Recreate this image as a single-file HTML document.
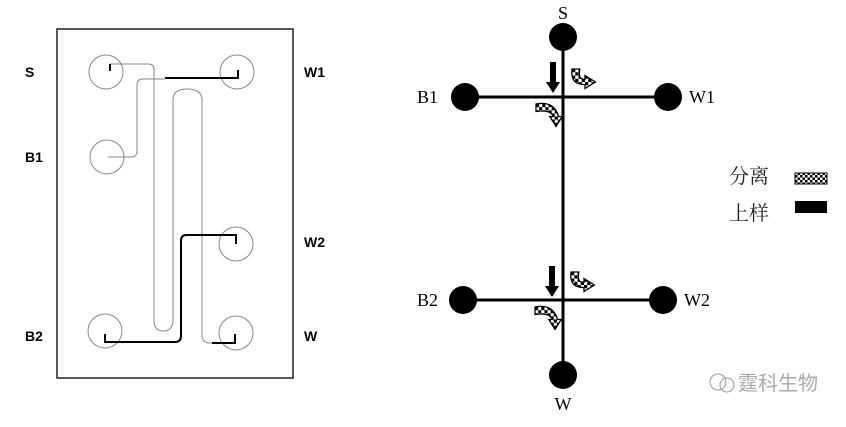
<!DOCTYPE html>
<html><head><style>
body{margin:0;background:#fff;width:846px;height:422px;overflow:hidden}
</style></head><body>
<svg width="846" height="422" xmlns="http://www.w3.org/2000/svg">
<defs>
<pattern id="ck" width="5" height="5" patternUnits="userSpaceOnUse">
<rect width="5" height="5" fill="#fff"/><rect width="2.5" height="2.5" fill="#000"/><rect x="2.5" y="2.5" width="2.5" height="2.5" fill="#000"/>
</pattern>
<g id="cr">
<path d="M0,0 C10,-2 16,2 18,10 L21,10 L16,18 L11,10 L14,10 C12,6 8,5 0,6 Z" fill="url(#ck)" stroke="#000" stroke-width="1"/>
</g>
<g id="cu">
<path d="M0,0 C-1,8 2,12 10,12 L10,15 L18,10 L10,5 L10,8 C6,8 5,6 6,0 Z" fill="url(#ck)" stroke="#000" stroke-width="1"/>
</g>
<g id="ar"><path d="M-3,0 L3,0 L3,20 L7,20 L0,31 L-7,20 L-3,20 Z" fill="#000"/></g>
</defs>
<!-- left chip -->
<rect x="57" y="29" width="236" height="349" fill="none" stroke="#222" stroke-width="1.5"/>
<g fill="none" stroke="#888" stroke-width="1">
<circle cx="106" cy="72" r="17"/><circle cx="237" cy="72" r="17"/>
<circle cx="107" cy="157" r="17"/><circle cx="236" cy="244" r="17"/>
<circle cx="105" cy="331" r="17"/><circle cx="236" cy="333" r="17"/>
<path d="M110,64 L148,64 Q154,64 154,70 L154,320 Q154,331 163,331 Q173,331 173,320 L173,100 Q173,89 187,89 Q202,89 202,100 L202,335 Q202,343 210,343 L235,343"/>
<path d="M108,157 L131,157 Q137,157 137,151 L137,85 Q137,79 143,79 L165,79"/>
</g>
<g fill="none" stroke="#000" stroke-width="2">
<path d="M110,71 L110,64"/>
<path d="M165,78 L238,78 L238,70"/>
<path d="M236,244 L236,235 L186,235 Q181,235 181,241 L181,336 Q181,342 175,342 L105,342 L105,334"/>
<path d="M212,343 L235,343 L235,334"/>
</g>
<g font-family="Liberation Sans,sans-serif" font-weight="bold" font-size="14" fill="#000">
<text x="25" y="77">S</text><text x="25" y="162">B1</text><text x="25" y="341">B2</text>
<text x="304" y="77">W1</text><text x="304" y="247">W2</text><text x="304" y="341">W</text>
</g>
<!-- right diagram -->
<g stroke="#000" stroke-width="3">
<line x1="563" y1="40" x2="563" y2="375"/>
<line x1="465" y1="97" x2="668" y2="97"/>
<line x1="463" y1="300" x2="663" y2="300"/>
</g>
<g fill="#000">
<circle cx="563" cy="37" r="14"/><circle cx="465" cy="97" r="14"/><circle cx="668" cy="97" r="14"/>
<circle cx="463" cy="300" r="14"/><circle cx="663" cy="300" r="14"/><circle cx="563" cy="375" r="14"/>
</g>
<use href="#ar" x="553" y="62"/><use href="#ar" x="552" y="266"/>
<use href="#cu" transform="translate(572,69) scale(1.3)"/><use href="#cu" transform="translate(571,272) scale(1.3)"/>
<use href="#cr" transform="translate(536,104) scale(1.25)"/><use href="#cr" transform="translate(535,307) scale(1.25)"/>
<g font-family="Liberation Serif,serif" font-size="18" fill="#000">
<text x="563" y="19" text-anchor="middle">S</text>
<text x="417" y="103">B1</text><text x="689" y="103">W1</text>
<text x="417" y="306">B2</text><text x="684" y="306">W2</text>
<text x="563" y="410" text-anchor="middle">W</text>
</g>
<g font-family="Liberation Serif,'Noto Serif CJK SC',serif" font-size="20" fill="#222">
<text x="729" y="183">分离</text><text x="729" y="220">上样</text>
</g>
<rect x="795" y="173" width="32" height="11" fill="url(#ck)" stroke="#000" stroke-width="1"/>
<rect x="795" y="201" width="32" height="12" fill="#000"/>
<g fill="none" stroke="#999" stroke-width="1">
<circle cx="718" cy="382" r="8"/><circle cx="727" cy="385" r="7"/>
</g>
<text x="738" y="390" font-family="'Noto Sans CJK SC',sans-serif" font-size="20" fill="#aaa">霆科生物</text>
</svg>
</body></html>
